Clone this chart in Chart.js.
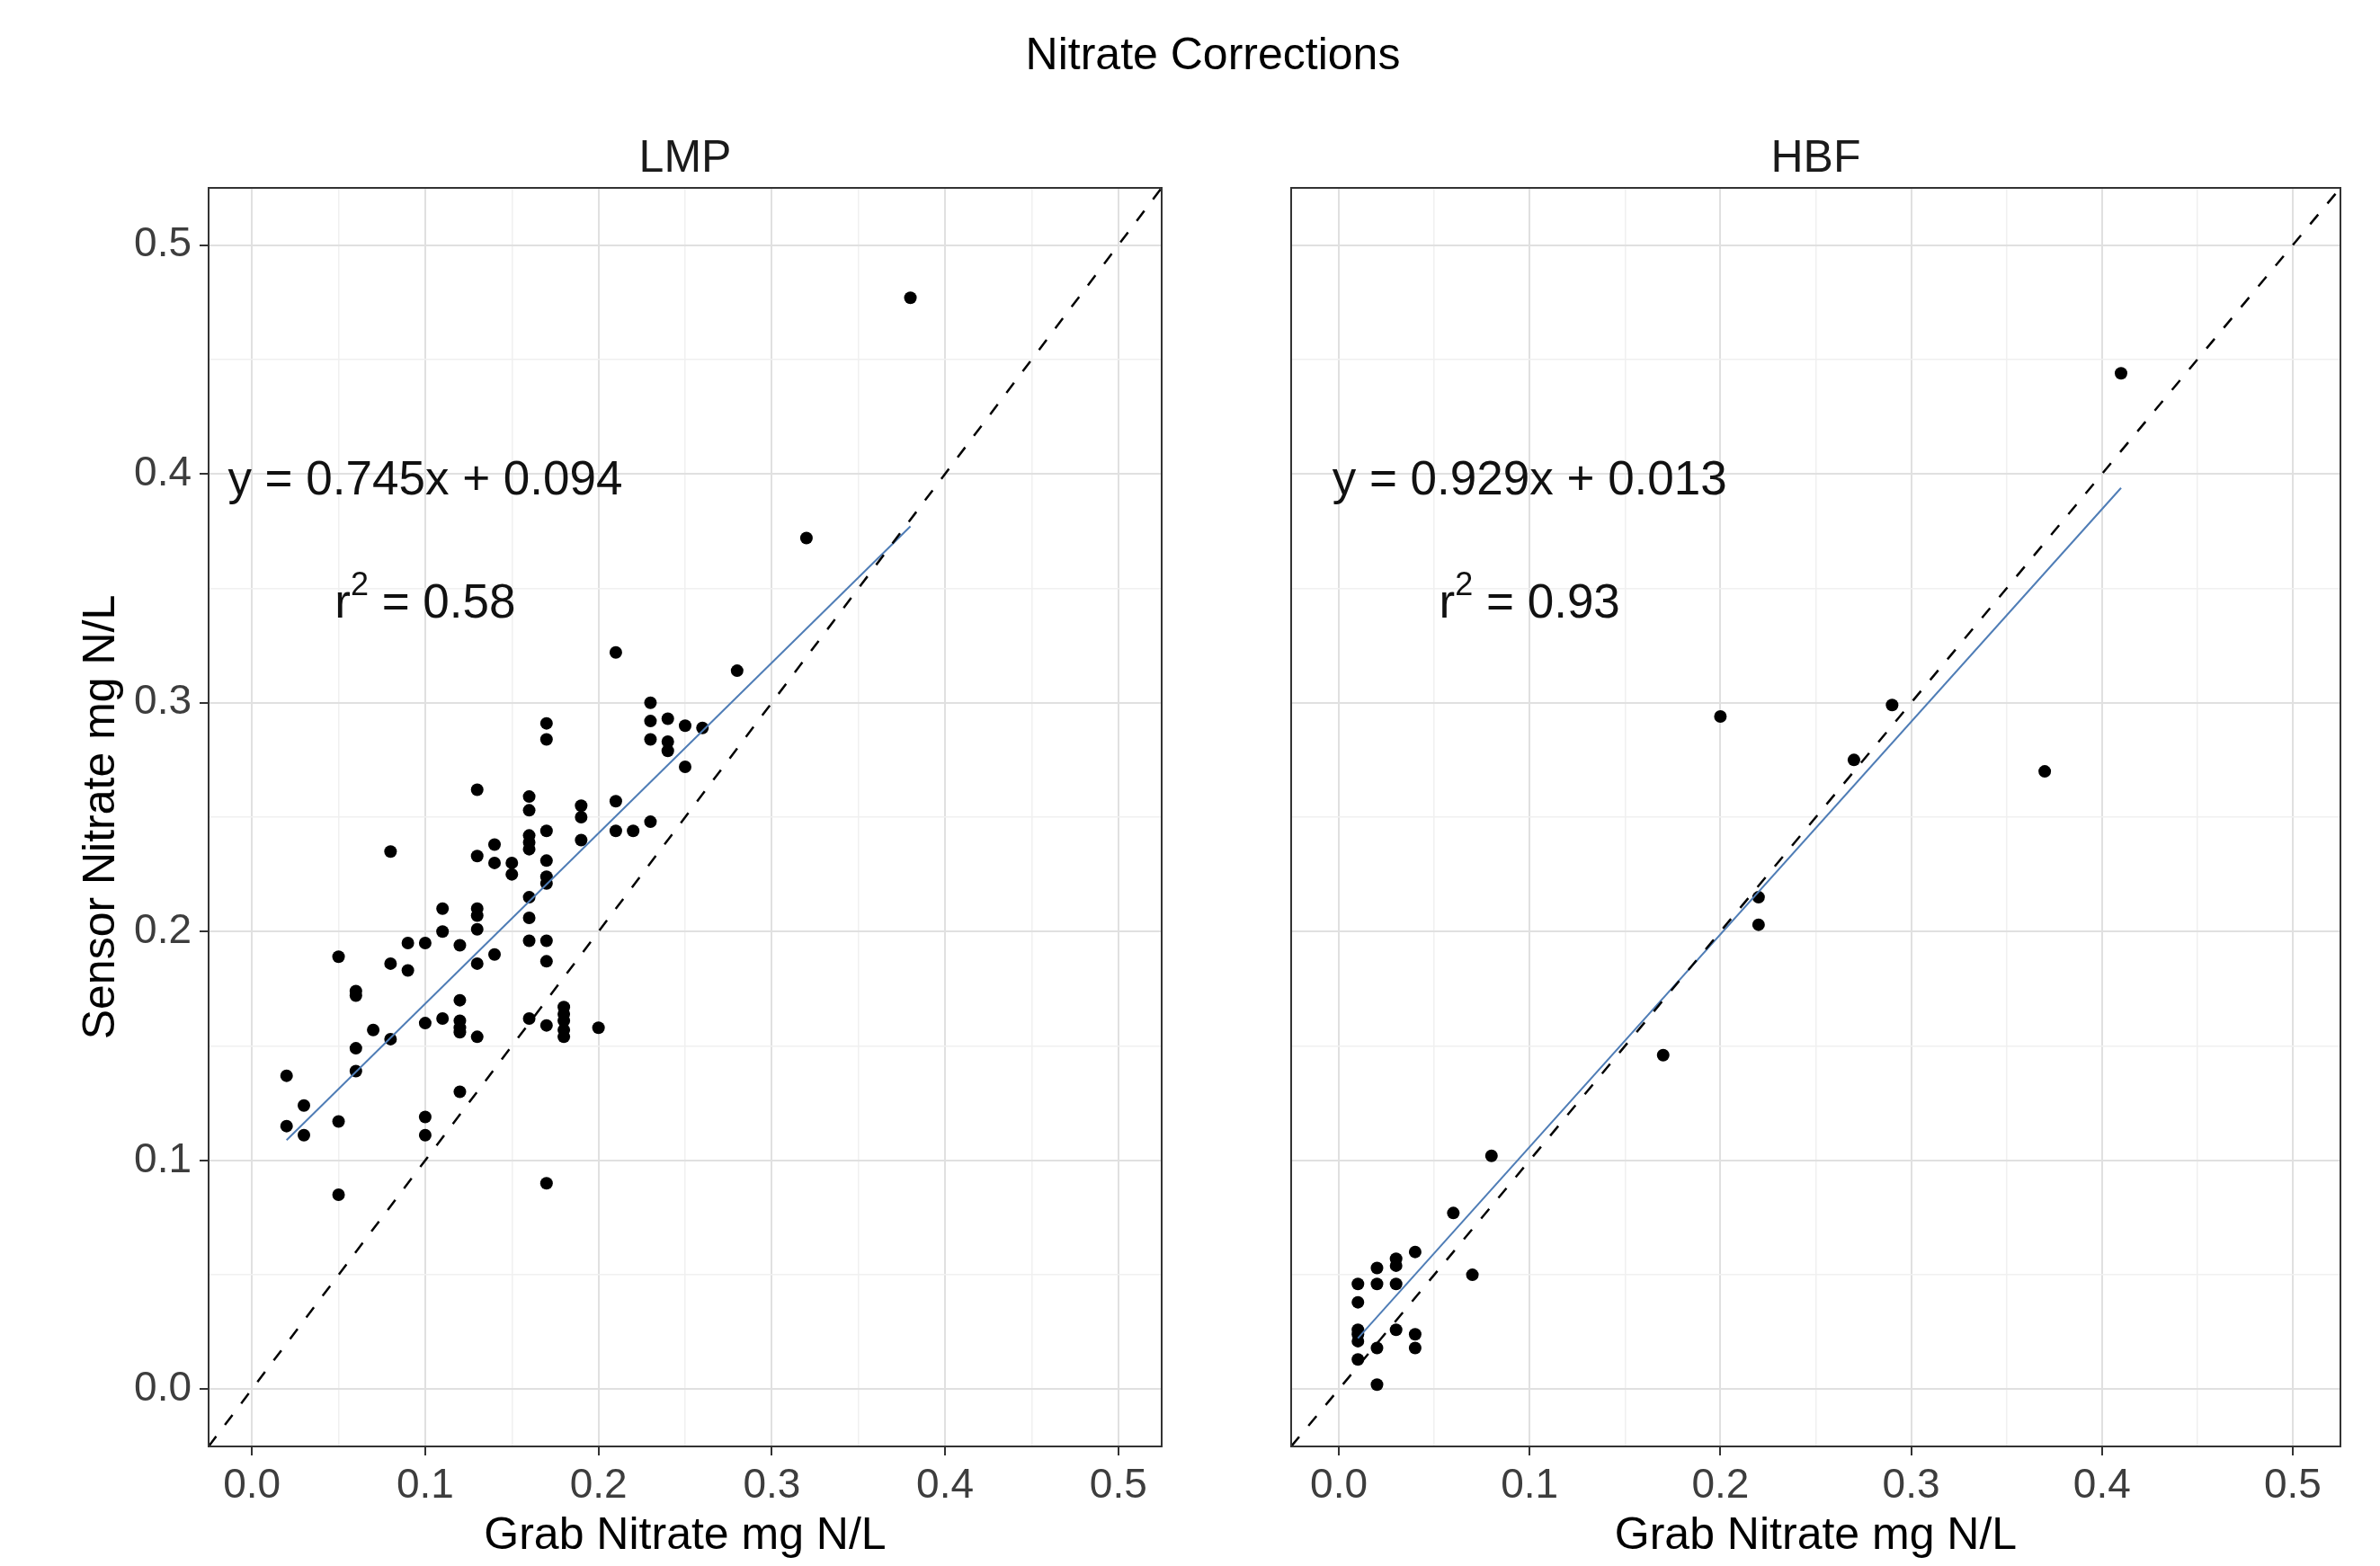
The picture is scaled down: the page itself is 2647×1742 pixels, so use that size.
<!DOCTYPE html>
<html>
<head>
<meta charset="utf-8">
<title>Nitrate Corrections</title>
<script src="https://cdn.jsdelivr.net/npm/chart.js@4.4.1/dist/chart.umd.min.js"></script>
<style>
  html, body { margin: 0; padding: 0; background: #fff; }
  body { width: 2647px; height: 1742px; position: relative; overflow: hidden;
         font-family: "Liberation Sans", Arial, sans-serif; }
  #title { position: absolute; top: 35px; left: 1349px; transform: translateX(-50%);
           font-size: 50px; line-height: 1; color: #000; white-space: nowrap; }
  .panel { position: absolute; top: 0; height: 1742px; }
  #wrapLmp { left: 0; width: 1340px; }
  #wrapHbf { left: 1340px; width: 1307px; }
</style>
</head>
<body>
<div id="title">Nitrate Corrections</div>
<div class="panel" id="wrapLmp"><canvas id="lmp" width="1340" height="1742"></canvas></div>
<div class="panel" id="wrapHbf"><canvas id="hbf" width="1307" height="1742"></canvas></div>
<script>
// values (grab vs sensor nitrate, mg N/L)
const lmpGrab = [
  0.38, 0.32, 0.21, 0.28, 0.23, 0.17, 0.17, 0.23, 0.24, 0.25, 0.26, 0.23, 0.24, 0.24, 0.25,
  0.13, 0.16, 0.16, 0.19, 0.19, 0.21, 0.16, 0.16, 0.17, 0.21, 0.22, 0.23, 0.19, 0.16, 0.08,
  0.13, 0.14, 0.14, 0.15, 0.15, 0.17, 0.17, 0.17, 0.16, 0.16, 0.11, 0.13, 0.13, 0.13, 0.11,
  0.09, 0.10, 0.12, 0.16, 0.17, 0.05, 0.08, 0.13, 0.14, 0.17, 0.09, 0.06, 0.06, 0.12, 0.11,
  0.12, 0.10, 0.12, 0.12, 0.13, 0.16, 0.17, 0.18, 0.18, 0.18, 0.18, 0.18, 0.20, 0.07, 0.08,
  0.06, 0.06, 0.02, 0.03, 0.02, 0.03, 0.05, 0.10, 0.10, 0.12, 0.05, 0.17
];
const lmpSensor = [
  0.477, 0.372, 0.322, 0.314, 0.300, 0.291, 0.284, 0.292, 0.293, 0.290, 0.289, 0.284, 0.283, 0.279, 0.272,
  0.262, 0.259, 0.253, 0.255, 0.250, 0.257, 0.242, 0.239, 0.244, 0.244, 0.244, 0.248, 0.240, 0.236, 0.235,
  0.233, 0.238, 0.230, 0.230, 0.225, 0.231, 0.224, 0.221, 0.215, 0.206, 0.210, 0.210, 0.207, 0.201, 0.200,
  0.195, 0.195, 0.194, 0.196, 0.196, 0.189, 0.186, 0.186, 0.190, 0.187, 0.183, 0.174, 0.172, 0.170, 0.162,
  0.161, 0.160, 0.158, 0.156, 0.154, 0.162, 0.159, 0.167, 0.164, 0.161, 0.157, 0.154, 0.158, 0.157, 0.153,
  0.149, 0.139, 0.137, 0.124, 0.115, 0.111, 0.117, 0.119, 0.111, 0.130, 0.085, 0.090
];
const hbfGrab = [
  0.41, 0.20, 0.29, 0.27, 0.37, 0.22, 0.22, 0.17, 0.08, 0.06, 0.07, 0.04, 0.03, 0.03,
  0.02, 0.01, 0.02, 0.03, 0.01, 0.01, 0.01, 0.01, 0.03, 0.04, 0.04, 0.02, 0.01, 0.02
];
const hbfSensor = [
  0.444, 0.294, 0.299, 0.275, 0.270, 0.215, 0.203, 0.146, 0.102, 0.077, 0.050, 0.060, 0.057, 0.054,
  0.053, 0.046, 0.046, 0.046, 0.038, 0.026, 0.024, 0.021, 0.026, 0.024, 0.018, 0.018, 0.013, 0.002
];

// fitted lines as printed on the panels
const lmpFit = { slope: 0.745, intercept: 0.094, eq: 'y = 0.745x + 0.094', r2: '0.58' };
const hbfFit = { slope: 0.929, intercept: 0.013, eq: 'y = 0.929x + 0.013', r2: '0.93' };

// shared axis ticks (majors labelled, minors only as grid)
const tickValues = [0, 0.05, 0.1, 0.15, 0.2, 0.25, 0.3, 0.35, 0.4, 0.45, 0.5];
const axisMin = -0.025;
const axisMax = 0.525;

const FONT = '"Liberation Sans", Arial, sans-serif';
const isMajor = v => Math.abs(v * 10 - Math.round(v * 10)) < 1e-6;

const panelDecor = {
  id: 'panelDecor',
  afterDatasetsDraw(chart, args, opts) {
    const { ctx, chartArea: a, scales: { x, y } } = chart;
    ctx.save();
    ctx.fillStyle = '#111';
    ctx.textBaseline = 'middle';
    ctx.textAlign = 'center';

    // equation
    ctx.font = '53px ' + FONT;
    const cx = x.getPixelForValue(0.1);
    ctx.fillText(opts.fit.eq, cx, y.getPixelForValue(0.4) + 8);

    // r^2 = ...
    const cy = y.getPixelForValue(0.345);
    ctx.textAlign = 'left';
    ctx.textBaseline = 'alphabetic';
    const base = cy + 20;
    ctx.font = '53px ' + FONT;
    const wR = ctx.measureText('r').width;
    const wRest = ctx.measureText(' = ' + opts.fit.r2).width;
    ctx.font = '36px ' + FONT;
    const wSup = ctx.measureText('2').width;
    let px = cx - (wR + wSup + wRest) / 2;
    ctx.font = '53px ' + FONT;
    ctx.fillText('r', px, base);
    px += wR;
    ctx.font = '36px ' + FONT;
    ctx.fillText('2', px, base - 25);
    px += wSup;
    ctx.font = '53px ' + FONT;
    ctx.fillText(' = ' + opts.fit.r2, px, base);

    // panel border
    ctx.strokeStyle = '#333';
    ctx.lineWidth = 2;
    ctx.strokeRect(a.left, a.top, a.right - a.left, a.bottom - a.top);

    // strip label
    ctx.fillStyle = '#1a1a1a';
    ctx.textAlign = 'center';
    ctx.textBaseline = 'middle';
    ctx.font = '50px ' + FONT;
    ctx.fillText(opts.strip, (a.left + a.right) / 2, a.top - 32);
    ctx.restore();
  }
};

function makePanel(canvasId, strip, grab, sensor, fit, showY, leftWidth, rightPad) {
  const points = grab.map((g, i) => ({ x: g, y: sensor[i] }));
  const lo = Math.min(...grab);
  const hi = Math.max(...grab);
  const fitLine = [lo, hi].map(v => ({ x: v, y: fit.slope * v + fit.intercept }));
  const oneToOne = [axisMin, axisMax].map(v => ({ x: v, y: v }));

  const grid = {
    color: c => isMajor(c.tick.value) ? '#e0e0e0' : '#f0f0f0',
    lineWidth: c => isMajor(c.tick.value) ? 2 : 1.5,
    tickColor: c => isMajor(c.tick.value) ? '#333' : 'rgba(0,0,0,0)',
    tickWidth: 2,
    tickLength: 10
  };
  const setTicks = s => { s.ticks = tickValues.map(v => ({ value: v })); };
  const label = v => isMajor(v) ? v.toFixed(1) : '';

  return new Chart(document.getElementById(canvasId), {
    type: 'scatter',
    data: {
      datasets: [
        {
          type: 'line', data: oneToOne, borderColor: '#000', borderWidth: 2.5,
          borderDash: [14, 16], pointRadius: 0, fill: false, order: 1
        },
        {
          type: 'line', data: fitLine, borderColor: '#4f7db6', borderWidth: 2,
          pointRadius: 0, fill: false, order: 2
        },
        {
          data: points, backgroundColor: '#000', borderColor: '#000', borderWidth: 0,
          pointRadius: 7, order: 3
        }
      ]
    },
    options: {
      responsive: false,
      animation: false,
      events: [],
      layout: { padding: { top: 209, right: rightPad, left: 0, bottom: 0 } },
      plugins: {
        legend: { display: false },
        tooltip: { enabled: false },
        panelDecor: { strip: strip, fit: fit }
      },
      scales: {
        x: {
          type: 'linear', min: axisMin, max: axisMax,
          afterBuildTicks: setTicks,
          afterFit: s => { s.height = 133; },
          grid: grid,
          border: { display: false },
          ticks: {
            callback: label, autoSkip: false, maxRotation: 0, padding: 7,
            color: '#3d3d3d', font: { size: 46, family: FONT }
          },
          title: {
            display: true, text: 'Grab Nitrate mg N/L', color: '#000',
            font: { size: 50, family: FONT }, padding: { top: 0, bottom: 3 }
          }
        },
        y: {
          type: 'linear', min: axisMin, max: axisMax,
          afterBuildTicks: setTicks,
          afterFit: s => { s.width = leftWidth; },
          grid: Object.assign({}, grid, { drawTicks: showY }),
          border: { display: false },
          ticks: {
            display: showY, callback: label, autoSkip: false, padding: 9,
            color: '#3d3d3d', font: { size: 46, family: FONT }
          },
          title: {
            display: showY, text: 'Sensor Nitrate mg N/L', color: '#000',
            font: { size: 50, family: FONT }, padding: { top: 83, bottom: 0 }
          }
        }
      }
    },
    plugins: [panelDecor]
  });
}

makePanel('lmp', 'LMP', lmpGrab, lmpSensor, lmpFit, true, 232, 48);
makePanel('hbf', 'HBF', hbfGrab, hbfSensor, hbfFit, false, 96, 44);
</script>
</body>
</html>
